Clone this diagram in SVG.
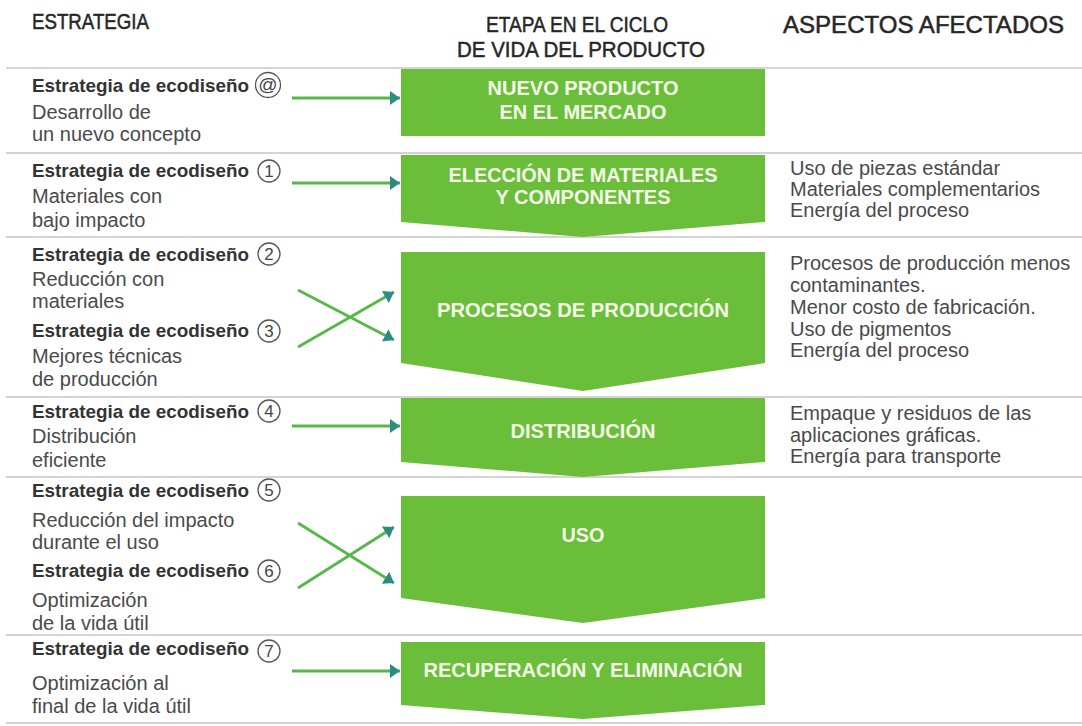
<svg xmlns="http://www.w3.org/2000/svg" width="1082" height="726" viewBox="0 0 1082 726">
<style>
.hdr{font-family:"Liberation Sans",Arial,sans-serif;font-size:22px;fill:#262626;stroke:#262626;stroke-width:0.5}
.strat{font-family:"Liberation Sans",Arial,sans-serif;font-size:19px;font-weight:bold;fill:#333}
.desc{font-family:"Liberation Sans",Arial,sans-serif;font-size:20px;fill:#4a4a4a}
.asp{font-family:"Liberation Sans",Arial,sans-serif;font-size:20px;fill:#4a4a4a}
.stage{fill:#6abe3a}
.stxt{font-family:"Liberation Sans",Arial,sans-serif;font-size:20px;font-weight:bold;fill:#f4fbe8;text-anchor:middle}
.sep{stroke:#c6c6c6;stroke-width:1.5}
.num{fill:none;stroke:#555;stroke-width:1.3}
.numt{font-family:"Liberation Sans",Arial,sans-serif;font-size:17px;fill:#444;text-anchor:middle}
.conn{stroke:#56b848;stroke-width:2.8;fill:none;marker-end:url(#ah)}
</style>
<defs>
<marker id="ah" viewBox="0 0 10 14" refX="10" refY="7" markerWidth="10" markerHeight="14" markerUnits="userSpaceOnUse" orient="auto">
<path d="M0,0 L10,7 L0,14 z" fill="#2a8c84"/>
</marker>
</defs>
<rect width="1082" height="726" fill="#ffffff"/>

<g id="separators">
<line class="sep" x1="6" y1="68" x2="1082" y2="68"/>
<line class="sep" x1="6" y1="153" x2="1082" y2="153"/>
<line class="sep" x1="6" y1="237" x2="1082" y2="237"/>
<line class="sep" x1="6" y1="397" x2="1082" y2="397"/>
<line class="sep" x1="6" y1="477" x2="1082" y2="477"/>
<line class="sep" x1="6" y1="635" x2="1082" y2="635"/>
<line class="sep" x1="6" y1="723" x2="1082" y2="723"/>
</g>

<g id="headers">
<text class="hdr" x="32" y="29" textLength="117" lengthAdjust="spacingAndGlyphs">ESTRATEGIA</text>
<text class="hdr" x="577" y="32" text-anchor="middle" textLength="182" lengthAdjust="spacingAndGlyphs">ETAPA EN EL CICLO</text>
<text class="hdr" x="581" y="57" text-anchor="middle" textLength="248" lengthAdjust="spacingAndGlyphs">DE VIDA DEL PRODUCTO</text>
<text class="hdr" x="783" y="33" style="font-size:23px" textLength="281" lengthAdjust="spacingAndGlyphs">ASPECTOS AFECTADOS</text>
</g>

<g id="stage-nuevo">
<rect class="stage" x="401" y="69" width="364" height="67"/>
<text class="stxt" x="583" y="95" textLength="191" lengthAdjust="spacingAndGlyphs">NUEVO PRODUCTO</text>
<text class="stxt" x="583" y="119" textLength="167" lengthAdjust="spacingAndGlyphs">EN EL MERCADO</text>
</g>
<g id="stage-eleccion">
<polygon class="stage" points="401,155 765,155 765,222 583,237 401,222"/>
<text class="stxt" x="583" y="182" textLength="269" lengthAdjust="spacingAndGlyphs">ELECCIÓN DE MATERIALES</text>
<text class="stxt" x="583" y="204" textLength="175" lengthAdjust="spacingAndGlyphs">Y COMPONENTES</text>
</g>
<g id="stage-procesos">
<polygon class="stage" points="401,252 765,252 765,363 583,391 401,363"/>
<text class="stxt" x="583" y="317" textLength="292" lengthAdjust="spacingAndGlyphs">PROCESOS DE PRODUCCIÓN</text>
</g>
<g id="stage-distribucion">
<polygon class="stage" points="401,398 765,398 765,462 583,477 401,462"/>
<text class="stxt" x="583" y="438" textLength="145" lengthAdjust="spacingAndGlyphs">DISTRIBUCIÓN</text>
</g>
<g id="stage-uso">
<polygon class="stage" points="401,496 765,496 765,598 583,623 401,598"/>
<text class="stxt" x="583" y="542" textLength="43" lengthAdjust="spacingAndGlyphs">USO</text>
</g>
<g id="stage-recuperacion">
<polygon class="stage" points="401,642 765,642 765,705 583,719 401,705"/>
<text class="stxt" x="583" y="677" textLength="319" lengthAdjust="spacingAndGlyphs">RECUPERACIÓN Y ELIMINACIÓN</text>
</g>

<g id="strategy-at">
<text class="strat" x="32" y="92" textLength="217" lengthAdjust="spacingAndGlyphs">Estrategia de ecodiseño</text>
<circle class="num" cx="268" cy="85" r="12.5"/>
<text class="numt" x="268" y="91" style="font-size:19px">@</text>
<text class="desc" x="32" y="119">Desarrollo de</text>
<text class="desc" x="32" y="141">un nuevo concepto</text>
</g>
<g id="strategy-1">
<text class="strat" x="32" y="177" textLength="217" lengthAdjust="spacingAndGlyphs">Estrategia de ecodiseño</text>
<circle class="num" cx="269" cy="171" r="11"/>
<text class="numt" x="269" y="177">1</text>
<text class="desc" x="32" y="203">Materiales con</text>
<text class="desc" x="32" y="227">bajo impacto</text>
</g>
<g id="strategy-2">
<text class="strat" x="32" y="261" textLength="217" lengthAdjust="spacingAndGlyphs">Estrategia de ecodiseño</text>
<circle class="num" cx="269" cy="254" r="11"/>
<text class="numt" x="269" y="260">2</text>
<text class="desc" x="32" y="286">Reducción con</text>
<text class="desc" x="32" y="308">materiales</text>
</g>
<g id="strategy-3">
<text class="strat" x="32" y="337" textLength="217" lengthAdjust="spacingAndGlyphs">Estrategia de ecodiseño</text>
<circle class="num" cx="269" cy="331" r="11"/>
<text class="numt" x="269" y="337">3</text>
<text class="desc" x="32" y="363">Mejores técnicas</text>
<text class="desc" x="32" y="386">de producción</text>
</g>
<g id="strategy-4">
<text class="strat" x="32" y="418" textLength="217" lengthAdjust="spacingAndGlyphs">Estrategia de ecodiseño</text>
<circle class="num" cx="269" cy="411" r="11"/>
<text class="numt" x="269" y="417">4</text>
<text class="desc" x="32" y="443">Distribución</text>
<text class="desc" x="32" y="467">eficiente</text>
</g>
<g id="strategy-5">
<text class="strat" x="32" y="497" textLength="217" lengthAdjust="spacingAndGlyphs">Estrategia de ecodiseño</text>
<circle class="num" cx="269" cy="490" r="11"/>
<text class="numt" x="269" y="496">5</text>
<text class="desc" x="32" y="527">Reducción del impacto</text>
<text class="desc" x="32" y="549">durante el uso</text>
</g>
<g id="strategy-6">
<text class="strat" x="32" y="577" textLength="217" lengthAdjust="spacingAndGlyphs">Estrategia de ecodiseño</text>
<circle class="num" cx="269" cy="571" r="11"/>
<text class="numt" x="269" y="577">6</text>
<text class="desc" x="32" y="607">Optimización</text>
<text class="desc" x="32" y="630">de la vida útil</text>
</g>
<g id="strategy-7">
<text class="strat" x="32" y="655" textLength="217" lengthAdjust="spacingAndGlyphs">Estrategia de ecodiseño</text>
<circle class="num" cx="269" cy="651" r="11"/>
<text class="numt" x="269" y="657">7</text>
<text class="desc" x="32" y="690">Optimización al</text>
<text class="desc" x="32" y="713">final de la vida útil</text>
</g>

<g id="aspects-eleccion">
<text class="asp" x="790" y="175">Uso de piezas estándar</text>
<text class="asp" x="790" y="196">Materiales complementarios</text>
<text class="asp" x="790" y="217">Energía del proceso</text>
</g>
<g id="aspects-procesos">
<text class="asp" x="790" y="270">Procesos de producción menos</text>
<text class="asp" x="790" y="292">contaminantes.</text>
<text class="asp" x="790" y="314">Menor costo de fabricación.</text>
<text class="asp" x="790" y="336">Uso de pigmentos</text>
<text class="asp" x="790" y="357">Energía del proceso</text>
</g>
<g id="aspects-distribucion">
<text class="asp" x="790" y="420">Empaque y residuos de las</text>
<text class="asp" x="790" y="442">aplicaciones gráficas.</text>
<text class="asp" x="790" y="463">Energía para transporte</text>
</g>

<g id="connectors">
<line class="conn" x1="292" y1="98" x2="400" y2="98"/>
<line class="conn" x1="292" y1="183" x2="400" y2="183"/>
<line class="conn" x1="298" y1="290" x2="394" y2="340"/>
<line class="conn" x1="298" y1="347" x2="394" y2="292"/>
<line class="conn" x1="292" y1="426" x2="400" y2="426"/>
<line class="conn" x1="298" y1="523" x2="394" y2="583"/>
<line class="conn" x1="298" y1="588" x2="394" y2="527"/>
<line class="conn" x1="292" y1="671" x2="400" y2="671"/>
</g>
</svg>
